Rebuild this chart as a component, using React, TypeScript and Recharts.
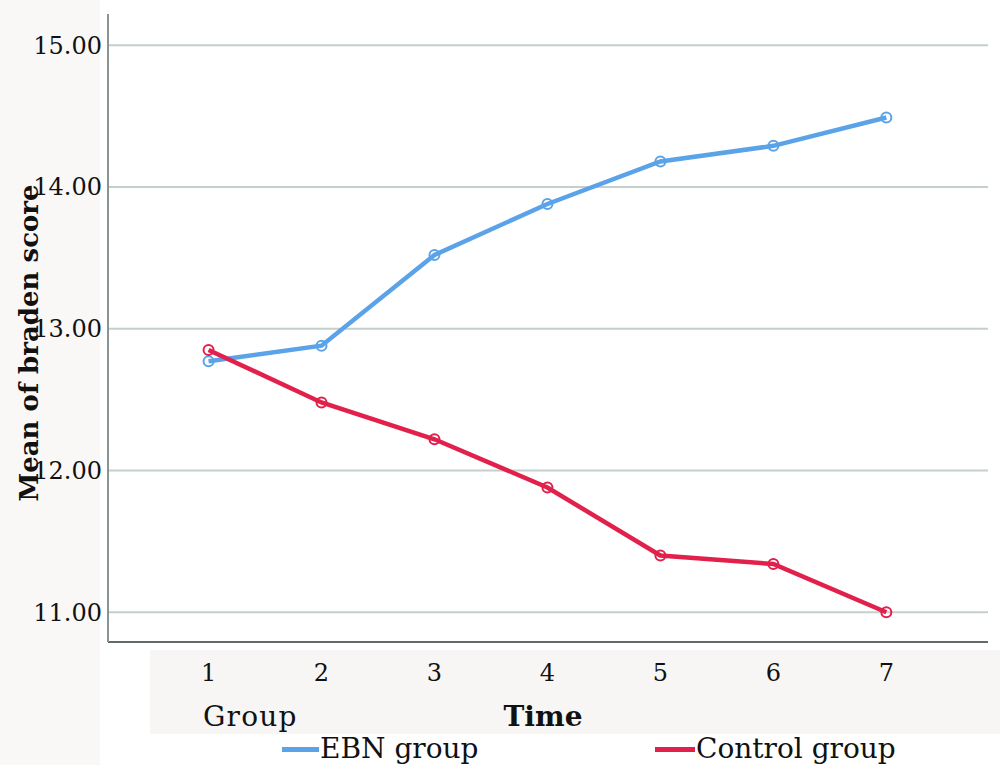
import { Legend, Line, LineChart, ReferenceLine, XAxis, YAxis } from "recharts";

const times = [1, 2, 3, 4, 5, 6, 7];
const ebnGroup = [12.77, 12.88, 13.52, 13.88, 14.18, 14.29, 14.49];
const controlGroup = [12.85, 12.48, 12.22, 11.88, 11.4, 11.34, 11.0];
const yTicks = [11, 12, 13, 14, 15];

const data = times.map((t, i) => ({
  time: t,
  ebn: ebnGroup[i],
  control: controlGroup[i],
}));

const FONT = "'DejaVu Serif', serif";
const BLUE = "#5ba3e8";
const RED = "#e2204c";

function XLabels({ viewBox }: any) {
  const { x, y, width } = viewBox;
  return (
    <g fontFamily={FONT} fontSize={28} fill="#111">
      <text x={203} y={y + 84} letterSpacing={1.2}>
        Group
      </text>
      <text x={x + width / 2 - 5} y={y + 84} textAnchor="middle" fontWeight="bold">
        Time
      </text>
    </g>
  );
}

function LegendItems() {
  const item = (color: string, label: string, left: number, lineWidth: number) => (
    <div style={{ position: "absolute", left, top: 0, display: "flex", alignItems: "center" }}>
      <div style={{ width: lineWidth, height: 5, background: color }} />
      <span style={{ fontFamily: FONT, fontSize: 28, color: "#111", marginLeft: 1, lineHeight: "34px" }}>
        {label}
      </span>
    </div>
  );
  return (
    <div style={{ position: "relative", height: 36 }}>
      {item(BLUE, "EBN group", 282, 37)}
      {item(RED, "Control group", 655, 40)}
    </div>
  );
}

export default function App() {
  return (
    <div style={{ position: "absolute", left: 0, top: 0, width: 1000, height: 780, background: "#fff" }}>
      <div style={{ position: "absolute", left: 0, top: 0, width: 100, height: 765, background: "#faf8f6" }} />
      <div style={{ position: "absolute", left: 150, top: 650, width: 850, height: 84, background: "#f8f6f4" }} />
      <LineChart
        width={1000}
        height={780}
        data={data}
        margin={{ top: 14, right: 12, bottom: 12, left: 0 }}
        style={{ position: "absolute", left: 0, top: 0 }}
      >
        {/* horizontal gridlines at the tick values */}
        {yTicks.map((v) => (
          <ReferenceLine key={v} y={v} stroke="#c5cfcb" strokeWidth={2} />
        ))}
        <XAxis
          dataKey="time"
          type="number"
          domain={[0.11, 7.9]}
          ticks={times}
          tickLine={false}
          axisLine={{ stroke: "#5f6b67", strokeWidth: 2 }}
          height={90}
          tick={{ fontFamily: FONT, fontSize: 24, fill: "#111", dy: 14 }}
          label={<XLabels />}
        />
        <YAxis
          domain={[10.79, 15.22]}
          ticks={yTicks}
          tickFormatter={(v: number) => v.toFixed(2)}
          tickLine={false}
          axisLine={{ stroke: "#8a9591", strokeWidth: 2 }}
          width={108}
          tick={{ fontFamily: FONT, fontSize: 24, fill: "#111", dx: 2 }}
          label={{
            value: "Mean of braden score",
            angle: -90,
            position: "insideLeft",
            dx: 24,
            dy: 15,
            style: { fontFamily: FONT, fontSize: 26, fontWeight: "bold", fill: "#111", textAnchor: "middle" },
          }}
        />
        <Legend verticalAlign="bottom" content={<LegendItems />} wrapperStyle={{ height: 36 }} />
        <Line
          dataKey="ebn"
          name="EBN group"
          stroke={BLUE}
          strokeWidth={4.5}
          dot={{ r: 5, stroke: BLUE, strokeWidth: 2, fill: "#fff", fillOpacity: 0 }}
          isAnimationActive={false}
        />
        <Line
          dataKey="control"
          name="Control group"
          stroke={RED}
          strokeWidth={4.5}
          dot={{ r: 5, stroke: RED, strokeWidth: 2, fill: "#fff", fillOpacity: 0 }}
          isAnimationActive={false}
        />
      </LineChart>
    </div>
  );
}
